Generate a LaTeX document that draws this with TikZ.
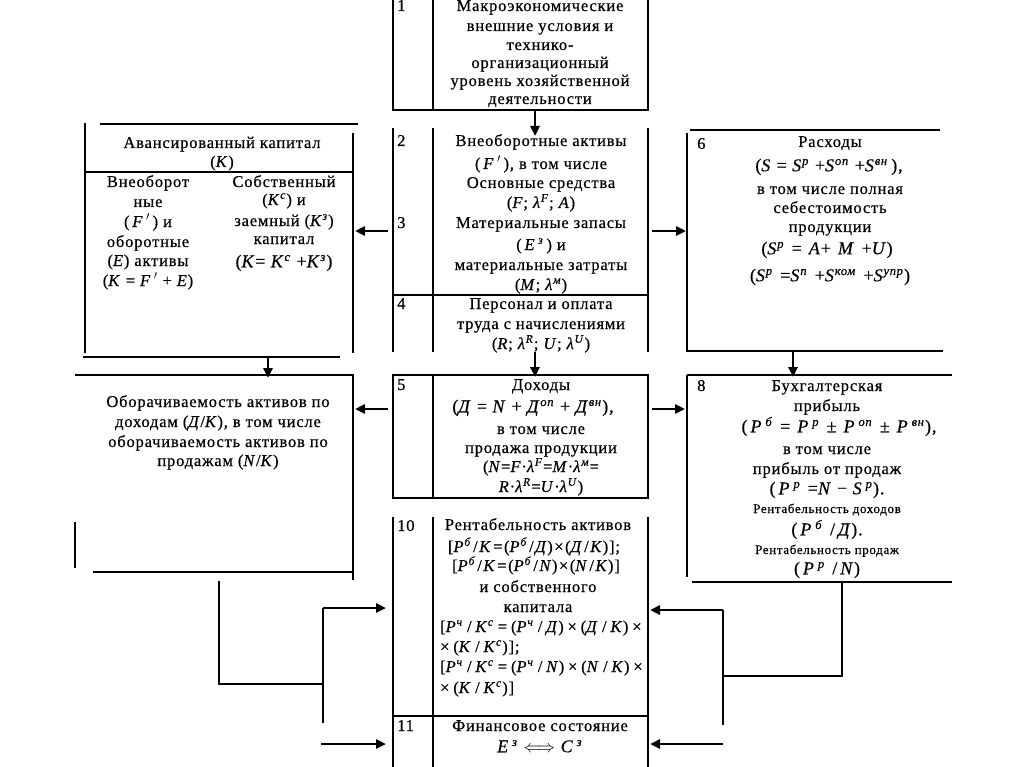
\documentclass[tikz,border=0pt]{standalone}
\usepackage{fontspec}
\usepackage{amsmath}
\setmainfont{Liberation Serif}[LetterSpace=5, UprightFeatures={FakeBold=0.5}, ItalicFeatures={FakeBold=0.5}]
\usetikzlibrary{arrows.meta}
\newcommand{\I}[1]{\textit{#1}}
\newcommand{\su}[1]{\textsuperscript{\textit{#1}}}
\newcommand{\ts}{\kern1.5pt}
\newcommand{\tw}{\kern3.8pt}
\newcommand{\gp}{\hspace{7pt}}
\begin{document}
\begin{tikzpicture}[x=1pt,y=-1pt,
  ln/.style={line width=1.3pt},
  arr/.style={line width=2.6pt,-{Triangle[length=10pt,width=9pt]}},
  tx/.style={font=\fontsize{16.5}{19}\selectfont, inner sep=0pt, text height=11.5pt, text depth=3.5pt},
  fm/.style={font=\fontsize{18}{20}\selectfont, inner sep=0pt, text height=12.5pt, text depth=4pt},
  sm/.style={font=\fontsize{13}{15}\selectfont, inner sep=0pt, text height=9pt, text depth=3pt},
  nm/.style={tx, anchor=west}]
\useasboundingbox (0,0) rectangle (1024,767);
\fill[white] (0,0) rectangle (1024,767);

% ---------- box 1 ----------
\draw[ln] (393,0) -- (393,110) -- (648,110) -- (648,0);
\draw[ln] (433,0) -- (433,110);
\node[nm] (n1) at (397,7) {1};
\node[tx] (t1a) at (540,7) {Макроэкономические};
\node[tx] (t1b) at (540,27) {внешние условия и};
\node[tx] (t1c) at (540,46) {технико-};
\node[tx] (t1d) at (540,64) {организационный};
\node[tx] (t1e) at (540,82) {уровень хозяйственной};
\node[tx] (t1f) at (540,100) {деятельности};

% ---------- boxes 2,3,4 ----------
\draw[ln] (393,128) -- (393,352);
\draw[ln] (433,128) -- (433,352);
\draw[ln] (648,128) -- (648,352);
\draw[ln] (393,295) -- (648,295);
\node[nm] (n2) at (397,142) {2};
\node[nm] (n3) at (397,224) {3};
\node[nm] (n4) at (397,305) {4};
\node[tx] (t2a) at (541,142) {Внеоборотные активы};
\node[tx] (t2b) at (541,165) {(\,\I{F}\,$'$\,), в том числе};
\node[tx] (t2c) at (541,184) {Основные средства};
\node[tx] (t2d) at (541,204) {(\I{F}; \I{λ}\su{F}; \I{A})};
\node[tx] (t3a) at (541,224) {Материальные запасы};
\node[tx] (t3b) at (541,246) {(\,\I{E}\,\su{з}\,) и};
\node[tx] (t3c) at (541,266) {материальные затраты};
\node[tx] (t3d) at (541,286) {(\I{M}; \I{λ}\su{м})};
\node[tx] (t4a) at (541,305) {Персонал и оплата};
\node[tx] (t4b) at (541,325) {труда с начислениями};
\node[tx] (t4c) at (541,345) {(\I{R}; \I{λ}\su{R}; \I{U}; \I{λ}\su{U})};

% ---------- box 5 ----------
\draw[ln] (393,375) rectangle (648,498);
\draw[ln] (433,375) -- (433,498);
\node[nm] (n5) at (397,386) {5};
\node[tx] (t5a) at (541,386) {Доходы};
\node[fm] (t5b) at (533,408) {(\I{Д} = \I{N} + \I{Д}\su{оп} + \I{Д}\su{вн}),};
\node[tx] (t5c) at (541,430) {в том числе};
\node[tx] (t5d) at (541,449) {продажа продукции};
\node[tx] (t5e) at (541,468) {(\I{N}=\I{F}·\I{λ}\su{F}=\I{M}·\I{λ}\su{м}=};
\node[tx] (t5f) at (541,488) {\I{R}·\I{λ}\su{R}=\I{U}·\I{λ}\su{U})};

% ---------- boxes 10, 11 ----------
\draw[ln] (393,517) -- (393,767);
\draw[ln] (433,517) -- (433,767);
\draw[ln] (648,517) -- (648,767);
\draw[ln] (393,716) -- (648,716);
\node[nm] (n10) at (397,527) {10};
\node[nm] (n11) at (397,727) {11};
\node[tx] (t10a) at (538,526) {Рентабельность активов};
\node[tx] (t10b) at (534,548) {[\I{P}\su{б}\ts/\ts\I{K}\ts=\ts(\I{P}\su{б}\ts/\ts\I{Д})\ts×\ts(\I{Д}\ts/\ts\I{K})];};
\node[tx] (t10c) at (536,567) {[\I{P}\su{б}\ts/\ts\I{K}\ts=\ts(\I{P}\su{б}\ts/\ts\I{N})\ts×\ts(\I{N}\ts/\ts\I{K})]};
\node[tx] (t10d) at (538,588) {и собственного};
\node[tx] (t10e) at (538,608) {капитала};
\node[tx, anchor=west] (t10f) at (440,628) {[\I{P}\su{ч}\tw/\tw\I{K}\su{с}\tw=\tw(\I{P}\su{ч}\tw/\tw\I{Д})\tw×\tw(\I{Д}\tw/\tw\I{K})\tw×};
\node[tx, anchor=west] (t10g) at (440,648) {×\tw(\I{K}\tw/\tw\I{K}\su{с})];};
\node[tx, anchor=west] (t10h) at (440,668) {[\I{P}\su{ч}\tw/\tw\I{K}\su{с}\tw=\tw(\I{P}\su{ч}\tw/\tw\I{N})\tw×\tw(\I{N}\tw/\tw\I{K})\tw×};
\node[tx, anchor=west] (t10i) at (440,689) {×\tw(\I{K}\tw/\tw\I{K}\su{с})]};
\node[tx] (t11a) at (540,727) {Финансовое состояние};
\node[fm] (t11b) at (540,748) {\I{E}\,\su{з} $\Longleftrightarrow$ \I{C}\,\su{з}};

% ---------- left box: advanced capital ----------
\draw[ln] (100,124) -- (358,124);
\draw[ln] (85,123) -- (85,353);
\draw[ln] (353,133) -- (353,353);
\draw[ln] (85,172) -- (353,172);
\draw[ln] (83,357) -- (340,357);
\node[tx] (tka) at (222,144) {Авансированный капитал};
\node[tx] (tkb) at (222,163) {(\I{K})};
\node[tx] (tla) at (148,183) {Внеоборот};
\node[tx] (tlb) at (148,203) {ные};
\node[tx] (tlc) at (148,223) {(\,\I{F}\,$'$\,) и};
\node[tx] (tld) at (148,243) {оборотные};
\node[tx] (tle) at (148,262) {(\I{E}) активы};
\node[tx] (tlf) at (148,282) {(\I{K} = \I{F}\,$'$ + \I{E})};
\node[tx] (tra) at (284,183) {Собственный};
\node[tx] (trb) at (284,201) {(\I{K}\su{с}) и};
\node[tx] (trc) at (284,222) {заемный (\I{K}\su{з})};
\node[tx] (trd) at (284,240) {капитал};
\node[fm] (tre) at (284,263) {(\I{K}= \I{K}\su{с} +\I{K}\su{з})};

% ---------- left box: turnover ----------
\draw[ln] (75,375) -- (353,375) -- (353,580);
\draw[ln] (93,572) -- (353,572);
\draw[ln] (75,522) -- (75,568);
\node[tx] (toa) at (218,403) {Оборачиваемость активов по};
\node[tx] (tob) at (218,423) {доходам (\I{Д}/\I{K}), в том числе};
\node[tx] (toc) at (218,443) {оборачиваемость активов по};
\node[tx] (tod) at (218,462) {продажам (\I{N}/\I{K})};

% ---------- box 6 ----------
\draw[ln] (690,130) -- (940,130);
\draw[ln] (687,133) -- (687,351) -- (943,351);
\node[nm] (n6) at (697,145) {6};
\node[tx] (t6a) at (830,143) {Расходы};
\node[fm] (t6b) at (829,167) {(\I{S} = \I{S}\su{р} +\I{S}\su{оп} +\I{S}\su{вн}\,),};
\node[tx] (t6c) at (830,190) {в том числе полная};
\node[tx] (t6d) at (830,209) {себестоимость};
\node[tx] (t6e) at (830,228) {продукции};
\node[fm] (t6f) at (827,250) {(\I{S}\su{р}\gp=\gp\I{A}+\gp\I{M}\gp+\I{U})};
\node[fm] (t6g) at (830,277) {(\I{S}\su{р}\gp=\I{S}\su{п}\gp+\I{S}\su{ком}\gp+\I{S}\su{упр})};

% ---------- box 8 ----------
\draw[ln] (687,375) -- (952,375);
\draw[ln] (687,375) -- (687,577);
\draw[ln] (692,582) -- (952,582);
\node[nm] (n8) at (697,387) {8};
\node[tx] (t8a) at (827,387) {Бухгалтерская};
\node[tx] (t8b) at (827,407) {прибыль};
\node[fm] (t8c) at (839,428) {(\,\I{P}\,\su{б}\gp=\gp\I{P}\,\su{р}\gp±\gp\I{P}\,\su{оп}\gp±\gp\I{P}\,\su{вн}),};
\node[tx] (t8d) at (827,450) {в том числе};
\node[tx] (t8e) at (827,470) {прибыль от продаж};
\node[fm] (t8f) at (827,490) {(\,\I{P}\,\su{р}\gp=\I{N} − \I{S}\,\su{р}).};
\node[sm] (t8g) at (827,510) {Рентабельность доходов};
\node[fm] (t8h) at (827,531) {(\,\I{P}\,\su{б}\gp/\,\I{Д}).};
\node[sm] (t8i) at (827,551) {Рентабельность продаж};
\node[fm] (t8j) at (827,570) {(\,\I{P}\,\su{р}\gp/\,\I{N})};

% ---------- connector points ----------
\coordinate (b1s) at (535,110);  \coordinate (b2n) at (535,136);
\coordinate (b23w) at (388,231); \coordinate (kape) at (355,231);
\coordinate (b23e) at (652,231); \coordinate (b6w) at (686,231);
\coordinate (b4s) at (535,352);  \coordinate (b5n) at (535,377);
\coordinate (kaps) at (268,357); \coordinate (turnn) at (268,378);
\coordinate (b6s) at (793,351);  \coordinate (b8n) at (793,377);
\coordinate (b5w) at (388,409);  \coordinate (turne) at (355,409);
\coordinate (b5e) at (652,409);  \coordinate (b8w) at (685,409);
\coordinate (la) at (219,581); \coordinate (lb) at (219,684); \coordinate (lc) at (323,684);
\coordinate (ld) at (323,608); \coordinate (le) at (323,723);
\coordinate (b10w) at (386,608);
\coordinate (lf) at (321,744); \coordinate (b11w) at (386,744);
\coordinate (ra) at (842,582); \coordinate (rb) at (842,676); \coordinate (rc) at (723,676);
\coordinate (rd) at (723,610); \coordinate (re) at (723,725);
\coordinate (b10e) at (650,610);
\coordinate (rf) at (723,744); \coordinate (b11e) at (650,744);

% ---------- connectors ----------
\draw[arr] (b1s) -- (b2n);
\draw[arr] (b23w) -- (kape);
\draw[arr] (b23e) -- (b6w);
\draw[arr] (b4s) -- (b5n);
\draw[arr] (kaps) -- (turnn);
\draw[arr] (b6s) -- (b8n);
\draw[arr] (b5w) -- (turne);
\draw[arr] (b5e) -- (b8w);
\draw[ln] (la) -- (lb) -- (lc);
\draw[ln] (ld) -- (le);
\draw[arr] (ld) -- (b10w);
\draw[arr] (lf) -- (b11w);
\draw[ln] (ra) -- (rb) -- (rc);
\draw[ln] (rd) -- (re);
\draw[arr] (rd) -- (b10e);
\draw[arr] (rf) -- (b11e);
\end{tikzpicture}
\end{document}
